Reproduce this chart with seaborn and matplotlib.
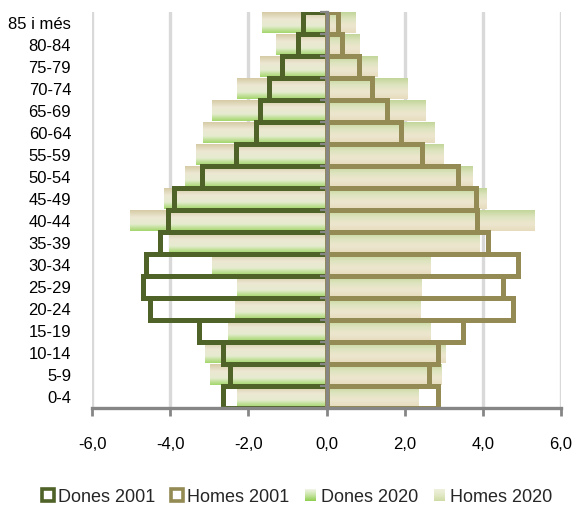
import numpy as np
import pandas as pd
import matplotlib
matplotlib.use("Agg")
import matplotlib.pyplot as plt
from matplotlib.colors import LinearSegmentedColormap
from matplotlib.patches import Patch, Rectangle
from matplotlib.legend_handler import HandlerBase
import seaborn as sns

# Age groups, listed from the top of the pyramid down
ages = ["85 i més", "80-84", "75-79", "70-74", "65-69", "60-64", "55-59", "50-54",
        "45-49", "40-44", "35-39", "30-34", "25-29", "20-24", "15-19", "10-14",
        "5-9", "0-4"]

# Share of population (%) per age group
dones_2001 = [0.61, 0.74, 1.13, 1.48, 1.71, 1.80, 2.31, 3.19, 3.91, 4.06, 4.27, 4.61,
              4.69, 4.51, 3.26, 2.64, 2.46, 2.64]
homes_2001 = [0.30, 0.39, 0.84, 1.17, 1.54, 1.90, 2.44, 3.36, 3.83, 3.86, 4.13, 4.91,
              4.51, 4.78, 3.50, 2.85, 2.63, 2.85]
dones_2020 = [1.66, 1.30, 1.71, 2.30, 2.94, 3.17, 3.33, 3.63, 4.15, 5.04, 4.04, 2.92,
              2.30, 2.35, 2.53, 3.12, 2.99, 2.30]
homes_2020 = [0.74, 0.84, 1.30, 2.06, 2.53, 2.76, 2.99, 3.73, 4.09, 5.32, 3.91, 2.65,
              2.42, 2.40, 2.65, 3.04, 2.93, 2.35]

x_ticks = [-6, -4, -2, 0, 2, 4, 6]
x_labels = ["-6,0", "-4,0", "-2,0", "0,0", "2,0", "4,0", "6,0"]

C_DONES_01 = "#4f6228"
C_HOMES_01 = "#948a54"
AXIS_GREY = "#868686"
GRID_GREY = "#d9d9d9"

# Vertical gradients (top -> bottom) for the 2020 bars
cmap_dones = LinearSegmentedColormap.from_list(
    "dones20", ["#d6cba6", "#ece7d2", "#e6ecd0", "#a3d66b"])
cmap_homes = LinearSegmentedColormap.from_list(
    "homes20", ["#c2d699", "#dfe4c0", "#ede6cf", "#e6dcbd"])
cmap_dones_leg = LinearSegmentedColormap.from_list(
    "dones20_leg", ["#eef3e2", "#c7e4a3", "#92cf55"])
cmap_homes_leg = LinearSegmentedColormap.from_list(
    "homes20_leg", ["#eef0dc", "#e2e8c6", "#cfdca6"])

sns.set_style("white")
plt.rcParams["font.family"] = ["Liberation Sans", "DejaVu Sans"]

fig = plt.figure(figsize=(5.75, 5.07), dpi=100)
ax = fig.add_axes([92 / 575, 1 - 408 / 507, (561 - 92) / 575, (408 - 12) / 507])

df = pd.DataFrame({
    "edat": ages,
    "dones_2001": -np.asarray(dones_2001),
    "homes_2001": np.asarray(homes_2001),
    "dones_2020": -np.asarray(dones_2020),
    "homes_2020": np.asarray(homes_2020),
})

# 2020 bars: drawn by seaborn, then filled with a vertical gradient
grad = np.linspace(0, 1, 64).reshape(-1, 1)
for col, cmap in (("dones_2020", cmap_dones), ("homes_2020", cmap_homes)):
    n_before = len(ax.patches)
    sns.barplot(data=df, x=col, y="edat", order=ages, orient="h", width=0.95,
                color="#dddddd", saturation=1, errorbar=None, ax=ax)
    for p in ax.patches[n_before:]:
        bb = p.get_bbox()
        p.set_facecolor("none")
        p.set_edgecolor("none")
        ax.imshow(grad, cmap=cmap, aspect="auto", origin="upper",
                  extent=(min(bb.x0, bb.x1), max(bb.x0, bb.x1),
                          max(bb.y0, bb.y1), min(bb.y0, bb.y1)),
                  interpolation="bilinear", zorder=0.8)

# 2001 bars: thick outlines only
for col, colr in (("dones_2001", C_DONES_01), ("homes_2001", C_HOMES_01)):
    n_before = len(ax.patches)
    sns.barplot(data=df, x=col, y="edat", order=ages, orient="h", width=1.0,
                color=colr, fill=False, linewidth=3.6, errorbar=None, ax=ax)
    for p in ax.patches[n_before:]:
        p.set_edgecolor(colr)
        p.set_facecolor("none")
        p.set_joinstyle("miter")
        p.set_zorder(1.2)

ax.set_xlim(-6, 6)
ax.set_ylim(len(ages) - 0.5, -0.5)
ax.set_xlabel("")
ax.set_ylabel("")

# Axes styling
for s in ("top", "left"):
    ax.spines[s].set_visible(False)
ax.spines["right"].set_position(("data", 0))
for s in ("right", "bottom"):
    ax.spines[s].set_visible(True)
    ax.spines[s].set_color(AXIS_GREY)
    ax.spines[s].set_linewidth(2.4)
    ax.spines[s].set_zorder(3)

ax.set_xticks(x_ticks, labels=x_labels)
ax.tick_params(axis="x", which="major", bottom=True, length=6, width=2,
               color=AXIS_GREY, pad=15, labelsize=12, labelcolor="black")

ax.set_yticks(np.arange(-0.5, len(ages), 1.0), minor=True)
ax.tick_params(axis="y", which="major", left=True, right=False, length=0,
               pad=15, labelsize=12, labelcolor="black")
ax.tick_params(axis="y", which="minor", left=False, right=True, direction="in",
               length=5, width=1.6, color=AXIS_GREY)

ax.xaxis.grid(True, color=GRID_GREY, linewidth=2.4)
ax.yaxis.grid(False)
ax.set_axisbelow(True)
ax.yaxis.set_zorder(3)


class GradientHandler(HandlerBase):
    def __init__(self, cmap, n=12):
        super().__init__()
        self.cmap = cmap
        self.n = n

    def create_artists(self, legend, orig_handle, xdescent, ydescent, width,
                       height, fontsize, trans):
        arts = []
        side = min(width, height)
        x0 = -xdescent + (width - side) / 2
        y0 = -ydescent + (height - side) / 2
        for i in range(self.n):
            r = Rectangle((x0, y0 + side * (self.n - 1 - i) / self.n), side,
                          side / self.n + 0.2, facecolor=self.cmap(i / (self.n - 1)),
                          edgecolor="none", transform=trans)
            arts.append(r)
        return arts


h_d01 = Patch(facecolor="white", edgecolor=C_DONES_01, linewidth=2.6, label="Dones 2001")
h_h01 = Patch(facecolor="white", edgecolor=C_HOMES_01, linewidth=2.6, label="Homes 2001")
h_d20 = Patch(facecolor="#c7e4a3", label="Dones 2020")
h_h20 = Patch(facecolor="#e2e8c6", label="Homes 2020")

fig.legend(handles=[h_d01, h_h01, h_d20, h_h20],
           labels=["Dones 2001", "Homes 2001", "Dones 2020", "Homes 2020"],
           handler_map={h_d20: GradientHandler(cmap_dones_leg),
                        h_h20: GradientHandler(cmap_homes_leg)},
           loc="center", bbox_to_anchor=(297 / 575, 1 - 497 / 507), ncol=4,
           frameon=False, fontsize=13, handlelength=0.65, handleheight=0.65,
           handletextpad=0.25, columnspacing=0.85, borderpad=0)

fig.savefig("out.png", dpi=100)
